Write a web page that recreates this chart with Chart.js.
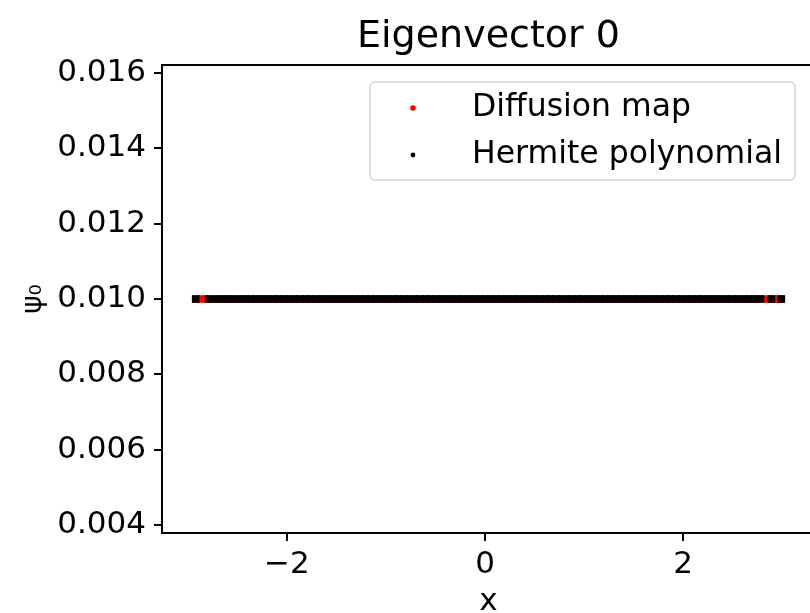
<!DOCTYPE html>
<html>
<head>
<meta charset="utf-8">
<title>Eigenvector 0</title>
<script src="https://cdn.jsdelivr.net/npm/chart.js@4.4.1/dist/chart.umd.min.js"></script>
<style>
    html, body { margin: 0; padding: 0; background: #fff; overflow: hidden; }
    #wrap { width: 830px; height: 613px; position: relative; }
</style>
</head>
<body>
<div id="wrap"><canvas id="eigen_chart"></canvas></div>
<script>
// sample positions along x for each method
var diffusionX = [-2.92, -2.86, -2.79, -2.72, -2.66, -2.60, -2.54, -2.48, -2.42, -2.36, -2.31, -2.25,
    -2.20, -2.14, -2.09, -2.03, -1.98, -1.92, -1.87, -1.81, -1.76, -1.70, -1.65, -1.59, -1.54, -1.48,
    -1.43, -1.37, -1.32, -1.26, -1.21, -1.15, -1.10, -1.04, -0.99, -0.93, -0.88, -0.82, -0.77, -0.71,
    -0.66, -0.60, -0.55, -0.49, -0.44, -0.38, -0.33, -0.27, -0.22, -0.16, -0.11, -0.05, 0.00, 0.06,
    0.11, 0.17, 0.22, 0.28, 0.33, 0.39, 0.44, 0.50, 0.55, 0.61, 0.66, 0.72, 0.77, 0.83, 0.88, 0.94,
    0.99, 1.05, 1.10, 1.16, 1.21, 1.27, 1.32, 1.38, 1.43, 1.49, 1.54, 1.60, 1.65, 1.71, 1.76, 1.82,
    1.87, 1.93, 1.98, 2.04, 2.09, 2.15, 2.20, 2.26, 2.31, 2.37, 2.43, 2.49, 2.55, 2.61, 2.67, 2.72,
    2.78, 2.84, 2.90, 2.95, 2.99];
var hermiteX = [-2.92, -2.79, -2.72, -2.66, -2.60, -2.54, -2.48, -2.42, -2.36, -2.31, -2.25,
    -2.20, -2.14, -2.09, -2.03, -1.98, -1.92, -1.87, -1.81, -1.76, -1.70, -1.65, -1.59, -1.54, -1.48,
    -1.43, -1.37, -1.32, -1.26, -1.21, -1.15, -1.10, -1.04, -0.99, -0.93, -0.88, -0.82, -0.77, -0.71,
    -0.66, -0.60, -0.55, -0.49, -0.44, -0.38, -0.33, -0.27, -0.22, -0.16, -0.11, -0.05, 0.00, 0.06,
    0.11, 0.17, 0.22, 0.28, 0.33, 0.39, 0.44, 0.50, 0.55, 0.61, 0.66, 0.72, 0.77, 0.83, 0.88, 0.94,
    0.99, 1.05, 1.10, 1.16, 1.21, 1.27, 1.32, 1.38, 1.43, 1.49, 1.54, 1.60, 1.65, 1.71, 1.76, 1.82,
    1.87, 1.93, 1.98, 2.04, 2.09, 2.15, 2.20, 2.26, 2.31, 2.37, 2.43, 2.49, 2.55, 2.61, 2.67, 2.72,
    2.78, 2.89, 2.99];
// psi_0 is flat for both
var diffusionPsi = 0.010;
var hermitePsi = 0.010;

var xTicks = [-2, 0, 2];
var yTicks = [0.004, 0.006, 0.008, 0.010, 0.012, 0.014, 0.016];
var xRange = [-3.26, 3.33];
var yRange = [0.003788, 0.016212];

var FONT = "'DejaVu Sans', sans-serif";

function points(xs, level){
    var out = [];
    for (var i in xs) {
        out.push({x: xs[i], y: level});
    }
    return out;
}

function fmtX(v){
    return v < 0 ? '\u2212' + Math.abs(v) : String(v);
}

// frame, title, axis label and legend box
var decorations = {
    id: 'decorations',
    afterDraw: function(chart){
        var ctx = chart.ctx;
        var a = chart.chartArea;
        var cx = (a.left + a.right) / 2;
        ctx.save();

        ctx.strokeStyle = '#000';
        ctx.lineWidth = 2;
        ctx.strokeRect(a.left, a.top, a.right - a.left, a.bottom - a.top);

        ctx.fillStyle = '#000';
        ctx.textAlign = 'center';
        ctx.textBaseline = 'middle';
        ctx.font = '38px ' + FONT;
        ctx.fillText('Eigenvector 0', cx, 37);
        ctx.font = '31px ' + FONT;
        ctx.fillText('x', cx, 602);

        // legend
        var bx = 370, by = 82, bw = 425, bh = 98;
        ctx.beginPath();
        ctx.roundRect(bx, by, bw, bh, 5);
        ctx.fillStyle = 'rgba(255,255,255,0.8)';
        ctx.fill();
        ctx.strokeStyle = '#d6d6d6';
        ctx.lineWidth = 1.5;
        ctx.stroke();

        var rows = [
            {label: chart.data.datasets[0].label, color: chart.data.datasets[0].backgroundColor, r: 2.8, y: 108},
            {label: chart.data.datasets[1].label, color: chart.data.datasets[1].backgroundColor, r: 2.4, y: 155}
        ];
        ctx.font = '31.5px ' + FONT;
        ctx.textAlign = 'left';
        for (var i in rows) {
            ctx.fillStyle = rows[i].color;
            ctx.beginPath();
            ctx.arc(413, rows[i].y, rows[i].r, 0, Math.PI * 2);
            ctx.fill();
            ctx.fillStyle = '#000';
            ctx.fillText(rows[i].label, 472, rows[i].y);
        }
        ctx.restore();
    }
};

var config = {
    type: 'scatter',
    data: {
        datasets: [
            {
                label: 'Diffusion map',
                data: points(diffusionX, diffusionPsi),
                backgroundColor: 'red',
                borderWidth: 0,
                pointStyle: 'rect',
                pointRadius: 5.4,
                order: 2
            },
            {
                label: 'Hermite polynomial',
                data: points(hermiteX, hermitePsi),
                backgroundColor: '#000',
                borderWidth: 0,
                pointStyle: 'rect',
                pointRadius: 5.3,
                order: 1
            }
        ]
    },
    plugins: [decorations],
    options: {
        responsive: false,
        animation: false,
        events: [],
        layout: { padding: { top: 65, right: 15, left: 0, bottom: 0 } },
        plugins: {
            legend: { display: false },
            title: { display: false },
            tooltip: { enabled: false }
        },
        scales: {
            x: {
                type: 'linear',
                min: xRange[0],
                max: xRange[1],
                afterFit: function(scale){ scale.height = 80; },
                afterBuildTicks: function(scale){
                    scale.ticks = xTicks.map(function(v){ return {value: v}; });
                },
                grid: { drawOnChartArea: false, tickLength: 8, color: '#000', lineWidth: 2 },
                border: { color: '#000', width: 2 },
                ticks: {
                    color: '#000',
                    padding: 5,
                    font: { family: FONT, size: 31 },
                    callback: function(v){ return fmtX(v); }
                }
            },
            y: {
                type: 'linear',
                min: yRange[0],
                max: yRange[1],
                afterFit: function(scale){ scale.width = 162; },
                afterBuildTicks: function(scale){
                    scale.ticks = yTicks.map(function(v){ return {value: v}; });
                },
                grid: { drawOnChartArea: false, tickLength: 8, color: '#000', lineWidth: 2 },
                border: { color: '#000', width: 2 },
                title: {
                    display: true,
                    text: '\u03c8\u2080',
                    color: '#000',
                    font: { family: FONT, size: 28 },
                    padding: { top: 17, bottom: 0 }
                },
                ticks: {
                    color: '#000',
                    padding: 8,
                    font: { family: FONT, size: 31 },
                    callback: function(v){ return v.toFixed(3); }
                }
            }
        }
    }
};

var canvas = document.getElementById('eigen_chart');
canvas.width = 830;
canvas.height = 613;
new Chart(canvas, config);
</script>
</body>
</html>
